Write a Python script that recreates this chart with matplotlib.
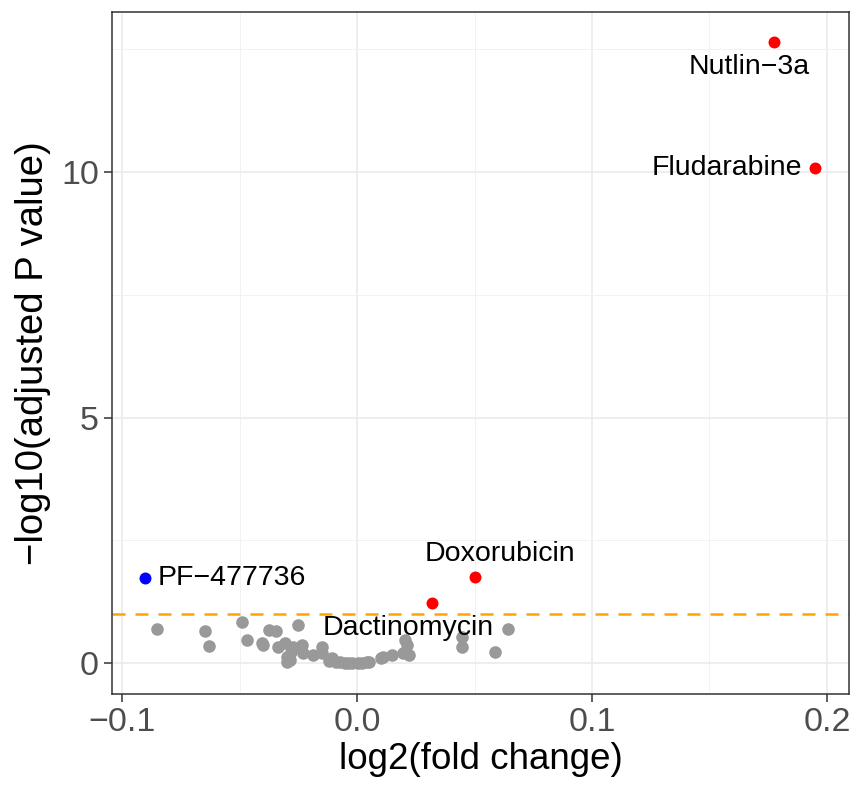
import matplotlib
matplotlib.use("Agg")
import matplotlib.pyplot as plt
from matplotlib.ticker import MultipleLocator

plt.rcParams['font.family'] = ['Liberation Sans', 'DejaVu Sans']

# Non-significant drugs (grey)
grey_x = [-0.0852, -0.0648, -0.0628, -0.0488, -0.0467, -0.0406, -0.0374, -0.0345,
          -0.0250, -0.0335, -0.0306, -0.0271, -0.0235, -0.0299, -0.0285, -0.0228,
          -0.0186, -0.0150, -0.0150, -0.0108, -0.0072, -0.0037, 0.0006, 0.0041,
          0.0112, 0.0148, 0.0197, 0.0211, 0.0204, 0.0220, 0.0445, 0.0445,
          0.0587, 0.0644, -0.0399, -0.0300, -0.0120, -0.0090, -0.0050, -0.0020,
          0.0020, 0.0050, -0.0280, 0.0100]
grey_y = [0.70, 0.66, 0.35, 0.84, 0.46, 0.40, 0.68, 0.66,
          0.78, 0.33, 0.40, 0.33, 0.37, 0.13, 0.06, 0.20,
          0.16, 0.33, 0.20, 0.10, 0.03, 0.00, 0.00, 0.03,
          0.13, 0.16, 0.20, 0.37, 0.47, 0.16, 0.54, 0.33,
          0.23, 0.69, 0.37, 0.03, 0.05, 0.02, 0.01, 0.00,
          0.00, 0.02, 0.23, 0.10]

# Significant drugs
up_names = ["Nutlin\u22123a", "Fludarabine", "Doxorubicin", "Dactinomycin"]
up_x = [0.1774, 0.1949, 0.0502, 0.0319]
up_y = [12.65, 10.08, 1.75, 1.22]
down_names = ["PF\u2212477736"]
down_x = [-0.0902]
down_y = [1.73]

threshold = 1.0  # -log10(0.1)

# label offsets in points (dx, dy), alignment
label_style = {
    "Nutlin\u22123a": ((-18, -18), "center", "center"),
    "Fludarabine": ((-9, 0), "right", "center"),
    "Doxorubicin": ((18, 16.5), "center", "center"),
    "Dactinomycin": ((-17, -18), "center", "center"),
    "PF\u2212477736": ((9, 0), "left", "center"),
}

fig = plt.figure(figsize=(8.54, 7.88), dpi=100)
ax = fig.add_axes([112/854, 1 - 694/788, (849-112)/854, (694-12)/788])

ax.set_xlim(-0.1043, 0.2094)
ax.set_ylim(-0.63, 13.26)

ax.xaxis.set_major_locator(MultipleLocator(0.1))
ax.xaxis.set_minor_locator(MultipleLocator(0.05))
ax.yaxis.set_major_locator(MultipleLocator(5))
ax.yaxis.set_minor_locator(MultipleLocator(2.5))
ax.grid(which='major', color='#EBEBEB', linewidth=1.2)
ax.grid(which='minor', color='#F2F2F2', linewidth=0.7)
ax.set_axisbelow(True)
for s in ax.spines.values():
    s.set_color('#333333')
    s.set_linewidth(1.1)

ax.tick_params(which='major', direction='out', length=5.5, width=1.1, color='#333333',
               labelsize=24.5, labelcolor='#4D4D4D', pad=4)
ax.tick_params(which='minor', length=0)

xt = [-0.1, 0.0, 0.1, 0.2]
ax.set_xticks(xt)
ax.set_xticklabels([f"{v:.1f}".replace("-", "\u2212") for v in xt])
yt = [0, 5, 10]
ax.set_yticks(yt)
ax.set_yticklabels([str(v) for v in yt])

ax.axhline(threshold, color='#FFA500', linewidth=1.8, linestyle=(0, (5.2, 4)), zorder=1)

ax.scatter(grey_x, grey_y, s=82, color='#999999', linewidths=0, zorder=2)
ax.scatter(up_x, up_y, s=74, color='red', linewidths=0, zorder=3)
ax.scatter(down_x, down_y, s=74, color='blue', linewidths=0, zorder=3)

for name, x, y in list(zip(up_names, up_x, up_y)) + list(zip(down_names, down_x, down_y)):
    (dx, dy), ha, va = label_style[name]
    ax.annotate(name, (x, y), xytext=(dx, dy), textcoords='offset points',
                ha=ha, va=va, fontsize=20.5, color='black', zorder=4)

ax.set_xlabel("log2(fold change)", fontsize=26.5, color='black', labelpad=3)
ax.set_ylabel("\u2212log10(adjusted P value)", fontsize=27.5, color='black', labelpad=7)

fig.savefig("out.png", dpi=100)
